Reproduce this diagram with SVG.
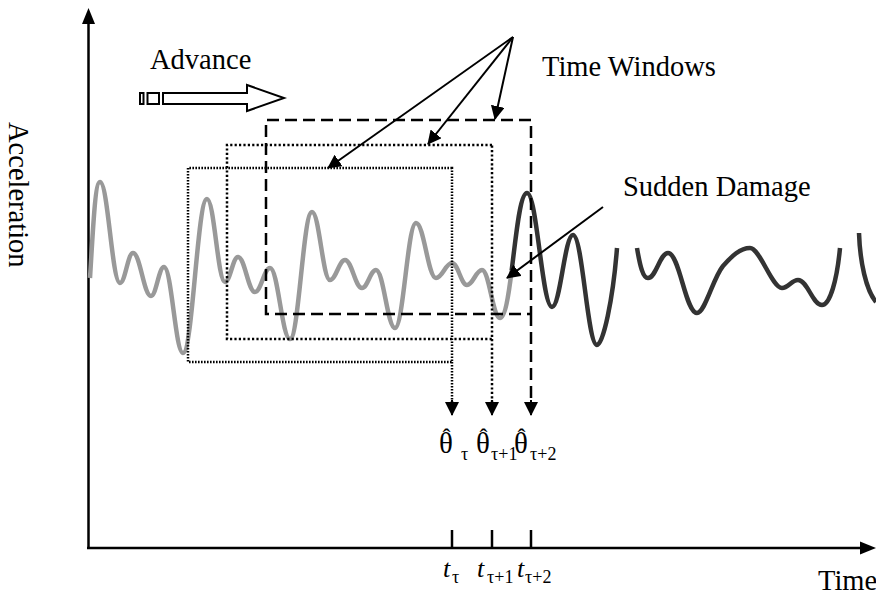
<svg xmlns="http://www.w3.org/2000/svg" width="876" height="596" viewBox="0 0 876 596">
<style>
text{font-family:"Liberation Serif","Times New Roman",serif;fill:#000}
.lbl{font-size:28.5px}
.ax{stroke:#000;stroke-width:2.5;fill:none}
.wave{fill:none;stroke-width:4.5;stroke-linejoin:round}
.win{fill:none;stroke:#000;stroke-width:2.5}
.conn{stroke:#000;stroke-width:2;fill:none}
.sub{font-size:18px}
.th{font-size:29px}
.hat{font-size:24px}
</style>
<defs>
<marker id="ah" viewBox="0 0 14 14" refX="13" refY="7" markerWidth="14" markerHeight="14" markerUnits="userSpaceOnUse" orient="auto">
<path d="M0,0 L14,7 L0,14 z" fill="#000"/>
</marker>
</defs>
<rect width="876" height="596" fill="#fff"/>

<g id="axes">
<line class="ax" x1="88.5" y1="549" x2="88.5" y2="22"/>
<path d="M82,24 L88.5,8 L95,24 z" fill="#000"/>
<line class="ax" x1="87" y1="548" x2="862" y2="548"/>
<path d="M860,541.5 L876,548 L860,554.5 z" fill="#000"/>
<line class="ax" x1="452" y1="530" x2="452" y2="548"/>
<line class="ax" x1="492" y1="530" x2="492" y2="548"/>
<line class="ax" x1="531" y1="530" x2="531" y2="548"/>
</g>

<g id="waveform">
<path class="wave" stroke="#999" d="M90,278 C93,230 95,182 100,182 C108,182 112,283 120,283 C125.2,283 127.8,253 133,253 C140.2,253 143.8,296 151,296 C156.2,296 158.8,267 164,267 C171.6,267 175.4,353 183,353 C192.6,353 197.4,199 207,199 C214.2,199 217.8,282 225,282 C230.2,282 232.8,257 238,257 C244.8,257 248.2,292 255,292 C261,292 264,268 270,268 C278,268 282,339 290,339 C298.8,339 303.2,212 312,212 C319.2,212 322.8,280 330,280 C336,280 339,260 345,260 C351.8,260 355.2,288 362,288 C367.6,288 370.4,270 376,270 C383.6,270 387.4,328 395,328 C403.4,328 407.6,223 416,223 C424,223 428,278 436,278 C442.4,278 445.6,263 452,263 C458,263 461,285 467,285 C473,285 476,270 482,270 C489.2,270 492.8,318 500,318 C505,318 508.5,296 511.7,270.4"/>
<path class="wave" stroke="#333" d="M511.7,270.4 C516.1,235 520,193 527,193 C537,193 542,307 552,307 C560.4,307 564.6,235 573,235 C582.6,235 587.4,345 597,345 C603,345 613,300 617,248"/>
<path class="wave" stroke="#333" d="M637,248 C640,266 643,278 648,278 C656,278 660,253 668,253 C679.6,253 685.4,313 697,313 C705,313 713,278 723,266 C732,256 740,248 750,248 C760,248 772,288 782,288 C788.4,288 791.6,280 798,280 C807.6,280 812.4,305 822,305 C830,305 837,280 840,248"/>
<path class="wave" stroke="#333" d="M859,233 C860,262 866,290 876,302"/>
</g>

<g id="window1">
<path class="win" stroke-dasharray="1.6 1.4" d="M452,168 H188 V362 H452 Z M452,362 V402"/>
</g>
<g id="window2">
<path class="win" stroke-dasharray="2.2 2.2" d="M492,145 H227 V339 H492 Z M492,339 V402"/>
</g>
<g id="window3">
<path class="win" stroke-dasharray="12 6" d="M531,120 H266 V314 H531 Z M531,314 V402"/>
</g>

<g id="advance">
<rect x="140" y="93" width="3.5" height="11" fill="#fff" stroke="#000" stroke-width="2"/>
<rect x="147.5" y="93" width="11.5" height="11" fill="#fff" stroke="#000" stroke-width="2"/>
<path d="M163,93 H247 V85 L284,98 L247,111 V104 H163 Z" fill="#fff" stroke="#000" stroke-width="2" stroke-linejoin="miter"/>
<text class="lbl" x="150" y="69">Advance</text>
</g>

<g id="labels">
<text class="lbl" x="542" y="76">Time Windows</text>
<text class="lbl" x="623" y="196">Sudden Damage</text>
<text class="lbl" x="818" y="590">Time</text>
<text class="lbl" transform="translate(9,122) rotate(90)">Acceleration</text>
</g>

<g id="estimates">
<text class="th" x="439" y="453">θ</text>
<text class="hat" x="446.5" y="445" text-anchor="middle">ˆ</text>
<text class="sub" x="461" y="460">τ</text>
<text class="th" x="476" y="453">θ</text>
<text class="hat" x="483.5" y="445" text-anchor="middle">ˆ</text>
<text class="sub" x="491" y="460">τ+1</text>
<text class="th" x="514" y="453">θ</text>
<text class="hat" x="521.5" y="445" text-anchor="middle">ˆ</text>
<text class="sub" x="530" y="460">τ+2</text>
</g>

<g id="ticklabels">
<text x="443" y="577" font-size="26" font-style="italic">t</text>
<text class="sub" x="452" y="583">τ</text>
<text x="477" y="577" font-size="26" font-style="italic">t</text>
<text class="sub" x="487" y="583">τ+1</text>
<text x="517" y="577" font-size="26" font-style="italic">t</text>
<text class="sub" x="525" y="583">τ+2</text>
</g>

<g id="connectors">
<line class="conn" x1="513" y1="37" x2="328" y2="168" marker-end="url(#ah)"/>
<line class="conn" x1="513" y1="37" x2="428" y2="144" marker-end="url(#ah)"/>
<line class="conn" x1="513" y1="37" x2="495" y2="119" marker-end="url(#ah)"/>
<line class="conn" x1="603" y1="207" x2="507" y2="278" marker-end="url(#ah)"/>
<line class="conn" x1="452" y1="400" x2="452" y2="415" marker-end="url(#ah)"/>
<line class="conn" x1="492" y1="400" x2="492" y2="415" marker-end="url(#ah)"/>
<line class="conn" x1="531" y1="400" x2="531" y2="415" marker-end="url(#ah)"/>
</g>
</svg>
